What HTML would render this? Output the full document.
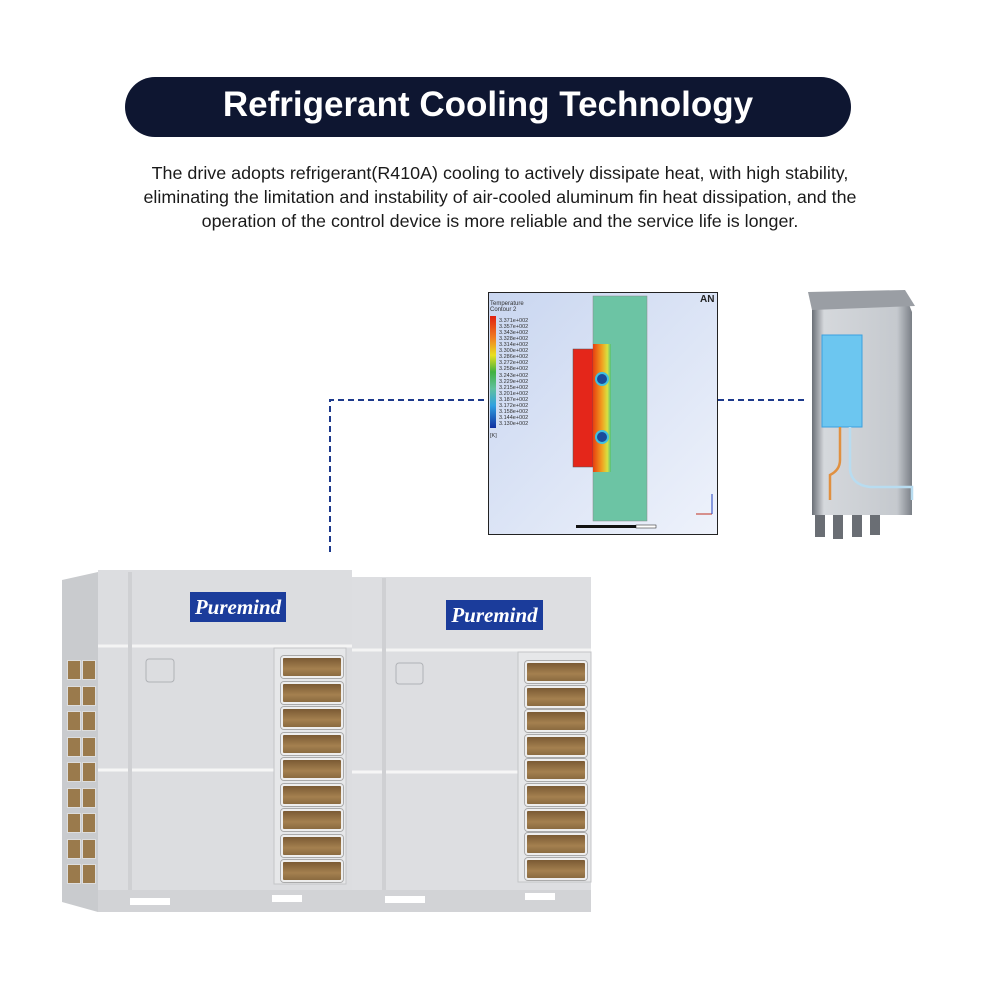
<!DOCTYPE html>
<html><head><meta charset="utf-8"><style>
body{margin:0;width:1000px;height:1000px;background:#fff;position:relative;overflow:hidden;font-family:"Liberation Sans",sans-serif}
.a{position:absolute}
.pill{left:125px;top:77px;width:726px;height:60px;background:#0e1631;border-radius:30px;color:#fff;font-weight:bold;font-size:35px;text-align:center;line-height:56px}
.p{left:60px;top:161px;width:880px;text-align:center;font-size:17.9px;line-height:24px;color:#1a1a1a}
.slat{position:absolute;width:58px;height:18px;background:linear-gradient(#7a5a34,#a4804f 60%,#8a6a40);border:2px solid #eee;border-radius:3px;box-shadow:0 0 0 1px #aaa}
.sv{position:absolute;width:12px;height:18px;background:#9a7a4c;border:1px solid #ddd}
.logo{position:absolute;background:#1b3c9b;color:#fff;font-family:"Liberation Serif",serif;font-style:italic;font-weight:bold;font-size:21px;text-align:center}
</style></head><body>
<div class="a pill">Refrigerant Cooling Technology</div>
<div class="a p">The drive adopts refrigerant(R410A) cooling to actively dissipate heat, with high stability,<br>eliminating the limitation and instability of air-cooled aluminum fin heat dissipation, and the<br>operation of the control device is more reliable and the service life is longer.</div>

<svg class="a" style="left:0;top:0" width="1000" height="1000">
<g stroke="#1d3a8c" stroke-width="2" stroke-dasharray="6,4" fill="none">
<path d="M330 552 V400 H488"/><path d="M718 400 H808"/>
</g>
<defs><linearGradient id="bg" x1="0" y1="0" x2="1" y2="1"><stop offset="0" stop-color="#c9d6f0"/><stop offset="1" stop-color="#eef2fb"/></linearGradient>
<linearGradient id="leg" x1="0" y1="0" x2="0" y2="1"><stop offset="0" stop-color="#e02010"/><stop offset=".2" stop-color="#f08020"/><stop offset=".35" stop-color="#e8e020"/><stop offset=".5" stop-color="#40b040"/><stop offset=".65" stop-color="#60c0a0"/><stop offset=".8" stop-color="#30a0e0"/><stop offset="1" stop-color="#1030a0"/></linearGradient>
<linearGradient id="hot" x1="0" y1="0" x2="1" y2="0"><stop offset="0" stop-color="#e84010"/><stop offset=".5" stop-color="#f0a020"/><stop offset=".8" stop-color="#d8e040"/><stop offset="1" stop-color="#50c080"/></linearGradient>
<linearGradient id="dev" x1="0" y1="0" x2="1" y2="0"><stop offset="0" stop-color="#6a6f76"/><stop offset=".12" stop-color="#d5d8dc"/><stop offset=".85" stop-color="#c5c9ce"/><stop offset="1" stop-color="#7a7f86"/></linearGradient>
</defs>
<rect x="488.5" y="292.5" width="229" height="242" fill="url(#bg)" stroke="#222"/>
<rect x="593" y="296" width="54" height="225" fill="#6cc4a4" stroke="#888" stroke-width=".5"/>
<rect x="573" y="349" width="20" height="118" fill="#e4261a" stroke="#555" stroke-width=".5"/>
<rect x="593" y="344" width="18" height="128" fill="url(#hot)"/>
<circle cx="602" cy="379" r="6" fill="#1a4a9a" stroke="#40c0e0" stroke-width="2"/>
<circle cx="602" cy="437" r="6" fill="#1a4a9a" stroke="#40c0e0" stroke-width="2"/>
<rect x="490" y="316" width="6" height="112" fill="url(#leg)"/>
<text x="490" y="305" font-size="6" fill="#333">Temperature</text><text x="490" y="311" font-size="6" fill="#333">Contour 2</text>
<g font-size="5.5" fill="#333">
<text x="499" y="322">3.371e+002</text><text x="499" y="328">3.357e+002</text><text x="499" y="334">3.343e+002</text><text x="499" y="340">3.328e+002</text><text x="499" y="346">3.314e+002</text><text x="499" y="352">3.300e+002</text><text x="499" y="358">3.286e+002</text><text x="499" y="364">3.272e+002</text><text x="499" y="370">3.258e+002</text><text x="499" y="377">3.243e+002</text><text x="499" y="383">3.229e+002</text><text x="499" y="389">3.215e+002</text><text x="499" y="395">3.201e+002</text><text x="499" y="401">3.187e+002</text><text x="499" y="407">3.172e+002</text><text x="499" y="413">3.158e+002</text><text x="499" y="419">3.144e+002</text><text x="499" y="425">3.130e+002</text><text x="490" y="437">[K]</text>
</g>
<text x="700" y="302" font-size="10" font-weight="bold" fill="#222">AN</text>
<rect x="576" y="525" width="60" height="3" fill="#111"/><rect x="636" y="525" width="20" height="3" fill="#fff" stroke="#111" stroke-width=".5"/>
<path d="M696 514 H712" stroke="#c03020" stroke-width="1" fill="none"/><path d="M712 514 V494" stroke="#2040c0"/>
<!-- right device -->
<polygon points="812,306 908,302 912,312 912,515 812,515" fill="url(#dev)"/>
<polygon points="808,292 905,290 915,306 812,310" fill="#9a9ea4"/>
<rect x="822" y="335" width="40" height="92" fill="#6cc6f0" stroke="#3aa0e0"/>
<path d="M840 427 V460 Q840 470 830 475 V500" stroke="#e09040" stroke-width="2.5" fill="none"/>
<path d="M850 427 V470 Q852 485 870 487 H912 V500" stroke="#b8dcf0" stroke-width="2.5" fill="none"/>
<rect x="815" y="515" width="10" height="22" fill="#6a6e74"/><rect x="833" y="515" width="10" height="24" fill="#6a6e74"/><rect x="852" y="515" width="10" height="22" fill="#6a6e74"/><rect x="870" y="515" width="10" height="20" fill="#6a6e74"/>
<!-- outdoor units -->
<polygon points="62,580 98,572 98,912 62,902" fill="#c9cbce"/>
<rect x="98" y="570" width="254" height="340" fill="#dcdde0"/>
<rect x="352" y="577" width="239" height="330" fill="#dddee1"/>
<line x1="98" y1="646" x2="352" y2="646" stroke="#f4f4f4" stroke-width="3"/>
<line x1="352" y1="650" x2="591" y2="650" stroke="#f4f4f4" stroke-width="3"/>
<line x1="98" y1="770" x2="275" y2="770" stroke="#f6f6f6" stroke-width="3"/>
<line x1="352" y1="772" x2="518" y2="772" stroke="#f6f6f6" stroke-width="3"/>
<line x1="130" y1="572" x2="130" y2="910" stroke="#cfd0d3" stroke-width="4"/>
<line x1="384" y1="578" x2="384" y2="905" stroke="#cfd0d3" stroke-width="4"/>
<rect x="274" y="648" width="72" height="236" fill="#e6e7e9" stroke="#c4c5c8"/>
<rect x="518" y="652" width="73" height="230" fill="#e6e7e9" stroke="#c4c5c8"/>
<rect x="146" y="659" width="28" height="23" rx="3" fill="none" stroke="#b0b2b6"/>
<rect x="396" y="663" width="27" height="21" rx="3" fill="none" stroke="#b0b2b6"/>
<rect x="98" y="890" width="493" height="22" fill="#d2d3d6"/>
<rect x="130" y="898" width="40" height="7" fill="#fff"/><rect x="385" y="896" width="40" height="7" fill="#fff"/>
<rect x="272" y="895" width="30" height="7" fill="#fff"/><rect x="525" y="893" width="30" height="7" fill="#fff"/>
</svg>
<div class="logo" style="left:190px;top:592px;width:96px;height:30px;line-height:30px">Puremind</div>
<div class="logo" style="left:446px;top:600px;width:97px;height:30px;line-height:30px">Puremind</div>
<div id="g"></div>
<script>
var h='';
for(var i=0;i<9;i++){
 h+='<div class="slat" style="left:281px;top:'+(656+i*25.5)+'px"></div>';
 h+='<div class="slat" style="left:525px;top:'+(661+i*24.6)+'px"></div>';
 h+='<div class="sv" style="left:67px;top:'+(660+i*25.5)+'px"></div>';
 h+='<div class="sv" style="left:82px;top:'+(660+i*25.5)+'px"></div>';
}
document.getElementById('g').innerHTML=h;
</script>
</body></html>
